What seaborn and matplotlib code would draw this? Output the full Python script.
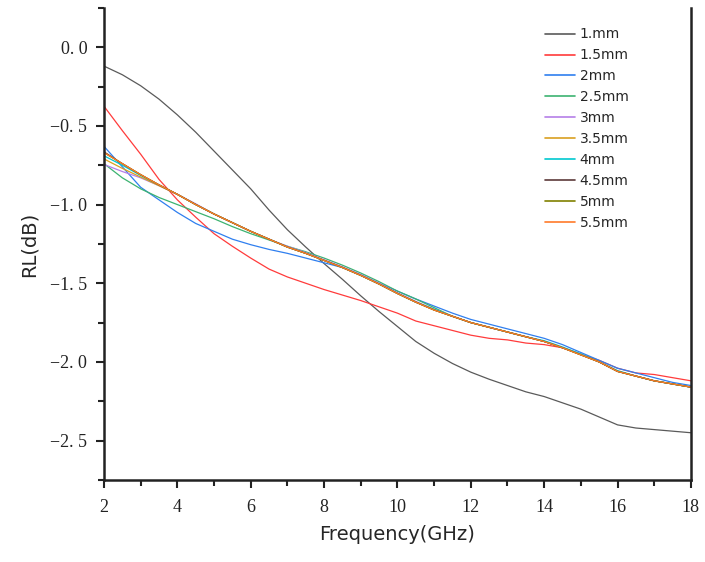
import numpy as np
import pandas as pd
import matplotlib
matplotlib.use("Agg")
import matplotlib.pyplot as plt
import seaborn as sns
from matplotlib.ticker import MultipleLocator, FuncFormatter

freq = [2.0, 2.5, 3.0, 3.5, 4.0, 4.5, 5.0, 5.5, 6.0, 6.5, 7.0, 7.5, 8.0, 8.5, 9.0, 9.5,
        10.0, 10.5, 11.0, 11.5, 12.0, 12.5, 13.0, 13.5, 14.0, 14.5, 15.0, 15.5, 16.0, 16.5,
        17.0, 17.5, 18.0]

labels = ["1.mm", "1.5mm", "2mm", "2.5mm", "3mm", "3.5mm", "4mm", "4.5mm", "5mm", "5.5mm"]
colors = ["#5a5a5a", "#ff3b3b", "#2f7fef", "#3cb371", "#b57fe8", "#d9a020",
          "#00c8d0", "#5c3a3a", "#808000", "#ff7a2a"]

rl_1 = [-0.12, -0.175, -0.245, -0.33, -0.43, -0.54, -0.66, -0.78, -0.90, -1.035, -1.16, -1.27,
        -1.375, -1.475, -1.58, -1.68, -1.775, -1.87, -1.945, -2.01, -2.065, -2.11, -2.15, -2.19,
        -2.22, -2.26, -2.30, -2.35, -2.40, -2.42, -2.43, -2.44, -2.45]
rl_15 = [-0.375, -0.53, -0.68, -0.84, -0.97, -1.08, -1.185, -1.265, -1.34, -1.41, -1.46, -1.50,
         -1.54, -1.575, -1.61, -1.65, -1.69, -1.74, -1.77, -1.80, -1.83, -1.85, -1.86, -1.88,
         -1.89, -1.91, -1.95, -1.99, -2.04, -2.07, -2.08, -2.10, -2.12]
rl_2 = [-0.63, -0.76, -0.89, -0.97, -1.05, -1.12, -1.17, -1.22, -1.255, -1.285, -1.31, -1.34,
        -1.37, -1.40, -1.445, -1.50, -1.55, -1.60, -1.645, -1.69, -1.73, -1.76, -1.79, -1.82,
        -1.85, -1.89, -1.94, -1.99, -2.04, -2.07, -2.10, -2.13, -2.15]
rl_25 = [-0.74, -0.83, -0.90, -0.955, -1.00, -1.045, -1.09, -1.14, -1.185, -1.225, -1.265, -1.30,
         -1.34, -1.385, -1.435, -1.49, -1.55, -1.60, -1.655, -1.71, -1.75, -1.78, -1.81, -1.84,
         -1.87, -1.91, -1.95, -2.00, -2.06, -2.09, -2.12, -2.14, -2.16]
rl_3 = [-0.745, -0.79, -0.83, -0.88, -0.935, -0.995, -1.06, -1.115, -1.17, -1.22, -1.265, -1.305,
        -1.35, -1.395, -1.445, -1.50, -1.56, -1.615, -1.665, -1.71, -1.75, -1.78, -1.81, -1.84,
        -1.87, -1.91, -1.95, -2.00, -2.06, -2.09, -2.12, -2.14, -2.16]
rl_35 = [-0.71, -0.77, -0.825, -0.88, -0.935, -1.00, -1.06, -1.115, -1.17, -1.22, -1.27, -1.31,
         -1.355, -1.40, -1.45, -1.505, -1.565, -1.62, -1.67, -1.71, -1.75, -1.78, -1.81, -1.84,
         -1.87, -1.91, -1.955, -2.00, -2.06, -2.09, -2.12, -2.14, -2.16]
rl_4 = [-0.69, -0.75, -0.815, -0.875, -0.935, -1.00, -1.06, -1.115, -1.17, -1.22, -1.27, -1.31,
        -1.355, -1.40, -1.45, -1.505, -1.565, -1.62, -1.665, -1.71, -1.75, -1.78, -1.81, -1.84,
        -1.865, -1.905, -1.95, -2.00, -2.055, -2.09, -2.12, -2.14, -2.16]
rl_45 = [-0.665, -0.74, -0.81, -0.875, -0.935, -1.00, -1.06, -1.115, -1.17, -1.22, -1.27, -1.31,
         -1.355, -1.40, -1.45, -1.505, -1.565, -1.62, -1.67, -1.71, -1.75, -1.78, -1.81, -1.84,
         -1.87, -1.91, -1.955, -2.00, -2.06, -2.09, -2.12, -2.14, -2.16]
rl_5 = [-0.67, -0.74, -0.81, -0.875, -0.935, -1.00, -1.06, -1.115, -1.17, -1.22, -1.27, -1.31,
        -1.355, -1.40, -1.45, -1.505, -1.565, -1.62, -1.67, -1.71, -1.75, -1.78, -1.81, -1.84,
        -1.87, -1.91, -1.955, -2.00, -2.06, -2.09, -2.12, -2.14, -2.16]
rl_55 = [-0.67, -0.74, -0.81, -0.875, -0.935, -1.00, -1.06, -1.115, -1.17, -1.22, -1.27, -1.31,
         -1.355, -1.40, -1.45, -1.505, -1.565, -1.62, -1.67, -1.71, -1.75, -1.78, -1.81, -1.84,
         -1.87, -1.91, -1.955, -2.00, -2.06, -2.09, -2.12, -2.14, -2.16]

series = [rl_1, rl_15, rl_2, rl_25, rl_3, rl_35, rl_4, rl_45, rl_5, rl_55]

frames = []
for lab, vals in zip(labels, series):
    frames.append(pd.DataFrame({"Frequency": freq, "RL": vals, "Thickness": lab}))
df = pd.concat(frames, ignore_index=True)

sns.set_style("ticks")
plt.rcParams["font.family"] = ["DejaVu Sans"]

fig = plt.figure(figsize=(7.05, 5.62), dpi=100)
ax = fig.add_axes([0.1475, 0.146, 0.8325, 0.840])

palette = dict(zip(labels, colors))
sns.lineplot(data=df, x="Frequency", y="RL", hue="Thickness", hue_order=labels,
             palette=palette, linewidth=0.9, ax=ax, legend=True)

ax.set_xlim(2, 18)
ax.set_ylim(-2.75, 0.25)
ax.xaxis.set_major_locator(MultipleLocator(2))
ax.xaxis.set_minor_locator(MultipleLocator(1))
ax.yaxis.set_major_locator(MultipleLocator(0.5))
ax.yaxis.set_minor_locator(MultipleLocator(0.25))

def yfmt(v, pos):
    s = f"{abs(v):.1f}".replace(".", ". ")
    return ("\u2212" + s) if v < -1e-9 else s

def xfmt(v, pos):
    return f"{v:.0f}"

ax.yaxis.set_major_formatter(FuncFormatter(yfmt))
ax.xaxis.set_major_formatter(FuncFormatter(xfmt))

for lab in ax.get_xticklabels() + ax.get_yticklabels():
    lab.set_fontfamily("Liberation Serif")
    lab.set_fontsize(13)
    lab.set_color("#333333")

ax.tick_params(axis="both", which="major", direction="out", length=6, width=1.5, colors="#222222")
ax.tick_params(axis="both", which="minor", direction="out", length=4, width=1.5, colors="#222222")
ax.tick_params(axis="x", pad=8)
ax.tick_params(axis="y", pad=6)

for side in ["left", "bottom", "right"]:
    ax.spines[side].set_visible(True)
    ax.spines[side].set_linewidth(1.8)
    ax.spines[side].set_color("#222222")
ax.spines["top"].set_visible(False)

ax.set_xlabel("Frequency(GHz)", fontsize=14, labelpad=6)
ax.set_ylabel("RL(dB)", fontsize=14, labelpad=8)

leg = ax.legend(loc="upper left", bbox_to_anchor=(0.73, 0.985), frameon=False,
                fontsize=10, handlelength=2.2, handletextpad=0.3, labelspacing=0.5)
for line in leg.get_lines():
    line.set_linewidth(1.2)

fig.savefig("out.png", dpi=100)
